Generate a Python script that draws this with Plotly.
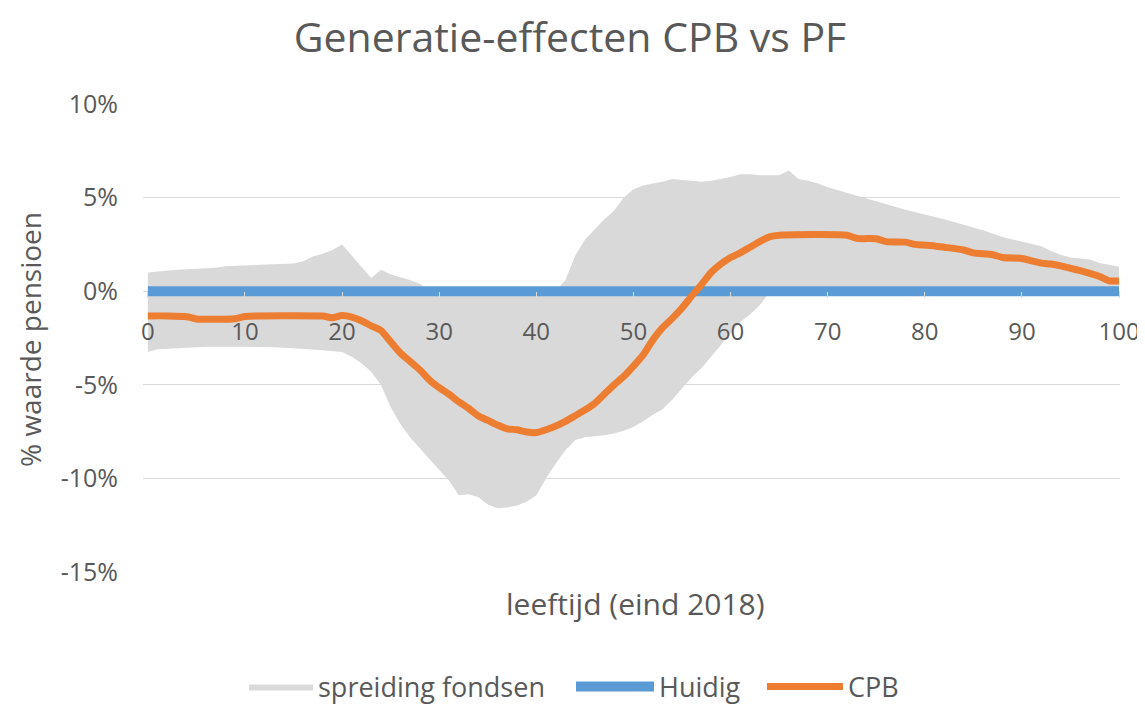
import plotly.graph_objects as go

# ---- data (values in %) ----
ages_cpb = [0, 2, 4, 5, 9, 10, 18, 19, 20, 21, 22, 23, 24, 25, 26, 27, 28, 29, 30,
            31, 32, 33, 34, 35, 36, 37, 38, 39, 40, 41, 42, 43, 44, 45, 46, 47, 48,
            49, 50, 51, 52, 53, 54, 55, 56, 57, 58, 59, 60, 61, 62, 63, 64, 65, 72,
            73, 75, 76, 78, 79, 81, 82, 84, 85, 87, 88, 90, 91, 92, 93, 94, 95, 96,
            97, 98, 99, 100]
cpb = [-1.32, -1.32, -1.36, -1.48, -1.47, -1.35, -1.33, -1.42, -1.30, -1.38, -1.58,
       -1.85, -2.10, -2.70, -3.30, -3.75, -4.20, -4.75, -5.15, -5.50, -5.90, -6.25,
       -6.65, -6.90, -7.15, -7.35, -7.40, -7.52, -7.55, -7.40, -7.20, -6.95, -6.65,
       -6.35, -6.00, -5.50, -5.00, -4.55, -4.00, -3.40, -2.60, -1.95, -1.45, -0.90,
       -0.25, 0.35, 1.00, 1.45, 1.80, 2.05, 2.35, 2.65, 2.90, 2.99, 2.99, 2.82, 2.80,
       2.65, 2.62, 2.50, 2.42, 2.35, 2.20, 2.05, 1.95, 1.80, 1.75, 1.62, 1.50, 1.45,
       1.35, 1.22, 1.10, 0.95, 0.78, 0.55, 0.55]

ages_huidig = [0, 100]
huidig = [0, 0]

ages_upper = [0, 1, 3, 5, 7, 8, 10, 13, 15, 16, 17, 18, 19, 20, 21, 22, 23, 24, 25,
              26, 27, 28, 29, 30, 42, 43, 44, 45, 46, 47, 48, 49, 50, 51, 52, 53, 54,
              55, 56, 57, 58, 59, 60, 61, 62, 63, 64, 65, 66, 67, 68, 69, 70, 72, 74,
              76, 78, 80, 82, 84, 86, 88, 90, 92, 93, 94, 95, 97, 98, 100]
band_upper = [1.00, 1.05, 1.15, 1.20, 1.25, 1.33, 1.38, 1.42, 1.48, 1.60, 1.85, 2.00,
              2.20, 2.50, 1.90, 1.30, 0.70, 1.15, 0.90, 0.75, 0.60, 0.40, 0.05, 0.00,
              0.00, 0.60, 1.90, 2.75, 3.30, 3.85, 4.30, 5.00, 5.45, 5.65, 5.75, 5.85,
              6.00, 5.95, 5.90, 5.85, 5.90, 6.00, 6.10, 6.25, 6.25, 6.20, 6.20, 6.20,
              6.45, 6.00, 5.90, 5.75, 5.55, 5.25, 4.95, 4.65, 4.35, 4.10, 3.85, 3.55,
              3.25, 2.90, 2.65, 2.40, 2.15, 1.95, 1.80, 1.70, 1.50, 1.30]

ages_lower = [0, 1, 3, 6, 10, 13, 15, 18, 20, 21, 22, 23, 24, 25, 26, 27, 28, 29, 30,
              31, 32, 33, 34, 35, 36, 37, 38, 39, 40, 41, 42, 43, 44, 45, 46, 47, 48,
              49, 50, 51, 52, 53, 54, 55, 56, 57, 58, 59, 60, 61, 62, 63, 64, 65, 100]
band_lower = [-3.25, -3.10, -3.05, -2.97, -2.97, -3.00, -3.05, -3.15, -3.25, -3.50,
              -3.85, -4.30, -5.00, -6.20, -7.10, -7.80, -8.40, -8.95, -9.55, -10.10,
              -10.90, -10.85, -11.00, -11.40, -11.60, -11.55, -11.45, -11.25, -10.90,
              -10.00, -9.20, -8.50, -7.95, -7.80, -7.75, -7.70, -7.60, -7.45, -7.25,
              -6.95, -6.60, -6.30, -5.80, -5.20, -4.60, -4.10, -3.50, -2.90, -2.25,
              -1.65, -1.25, -0.75, -0.05, 0.00, 0.00]

x_ticks = [0, 10, 20, 30, 40, 50, 60, 70, 80, 90, 100]
y_ticks = [-15, -10, -5, 0, 5, 10]
y_ticktext = ["-15%", "-10%", "-5%", "0%", "5%", "10%"]

TEXT = "#595959"
FONT = "Open Sans"
Y_MIN, Y_MAX = -15, 10
zero_frac = (0 - Y_MIN) / (Y_MAX - Y_MIN)

W, H = 1137, 696          # page body adds an 8px offset inside the 1145x704 window
L, R, T, B = 135, 25, 96, 132
PW, PH = W - L - R, H - T - B


def px_x(px):
    return (px - L) / PW


def px_y(py):
    return (PH + T - py) / PH


fig = go.Figure()

fig.add_trace(go.Scatter(
    x=ages_upper + ages_lower[::-1],
    y=band_upper + band_lower[::-1],
    fill="toself", fillcolor="#D9D9D9", mode="lines",
    line=dict(width=0, color="#D9D9D9"),
    name="spreiding fondsen", hoverinfo="skip", legend="legend",
))
fig.add_trace(go.Scatter(
    x=ages_huidig, y=huidig, mode="lines",
    line=dict(color="#5B9BD5", width=10), name="Huidig", legend="legend2",
))
fig.add_trace(go.Scatter(
    x=ages_cpb, y=cpb, mode="lines",
    line=dict(color="#ED7D31", width=7, shape="spline", smoothing=0.6), name="CPB",
    legend="legend3",
))

leg_common = dict(orientation="h", xanchor="left", yanchor="middle",
                  y=px_y(679), font=dict(family=FONT, size=27, color=TEXT),
                  bgcolor="rgba(0,0,0,0)")

fig.update_layout(
    width=W, height=H,
    margin=dict(l=L, r=R, t=T, b=B, autoexpand=False),
    paper_bgcolor="white", plot_bgcolor="white",
    font=dict(family=FONT, color=TEXT, size=24),
    title=dict(text="Generatie-effecten CPB vs PF", x=562 / W, xref="container",
               xanchor="center", y=1 - 30 / H, yanchor="middle",
               font=dict(family=FONT, size=41, color=TEXT)),
    showlegend=True,
    legend=dict(x=px_x(236), itemwidth=64, **leg_common),
    legend2=dict(x=px_x(563), itemwidth=78, **leg_common),
    legend3=dict(x=px_x(754), itemwidth=76, **leg_common),
    xaxis=dict(range=[-0.5, 100.1], tickvals=x_ticks, showgrid=False, zeroline=False,
               showline=False, anchor="free", position=zero_frac, automargin=False,
               tickangle=0, ticks="outside", ticklen=6, tickcolor="#D9D9D9",
               ticklabelstandoff=13,
               tickfont=dict(family=FONT, size=24, color=TEXT)),
    yaxis=dict(range=[Y_MIN, Y_MAX], tickvals=y_ticks, ticktext=y_ticktext,
               domain=[0, 1], automargin=False,
               showgrid=True, gridcolor="#D9D9D9", gridwidth=1, zeroline=False,
               showline=False, ticks="", ticklabelstandoff=24,
               tickfont=dict(family=FONT, size=25, color=TEXT)),
    annotations=[
        dict(text="leeftijd (eind 2018)", xref="paper", yref="paper",
             x=px_x(627), y=px_y(595), xanchor="center",
             yanchor="middle", showarrow=False,
             font=dict(family=FONT, size=30, color=TEXT)),
        dict(text="% waarde pensioen", xref="paper", yref="paper", textangle=-90,
             x=px_x(22), y=px_y(332), xanchor="center",
             yanchor="middle", showarrow=False,
             font=dict(family=FONT, size=28, color=TEXT)),
    ],
)

fig.write_html("out.html")
